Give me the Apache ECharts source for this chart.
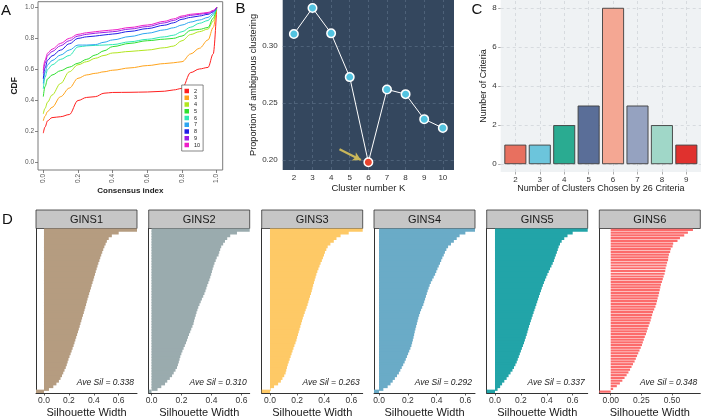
<!DOCTYPE html>
<html><head><meta charset="utf-8">
<script src="https://cdn.jsdelivr.net/npm/echarts@6/dist/echarts.min.js"></script>
<style>html,body{margin:0;padding:0;background:#fff}#c{width:701px;height:419px}</style>
</head><body><div id="c"></div>
<script>
// ---------- Panel A: consensus CDF ----------
const cdfX = [0, 0.01, 0.025, 0.05, 0.1, 0.15, 0.2, 0.25, 0.3, 0.35, 0.4, 0.5, 0.6, 0.7, 0.75, 0.8, 0.85, 0.9, 0.95, 0.98, 1.0];
const cdfK = ['2','3','4','5','6','7','8','9','10'];
const cdf2  = [0.19, 0.23, 0.27, 0.29, 0.296, 0.31, 0.40, 0.42, 0.425, 0.447, 0.452, 0.453, 0.455, 0.46, 0.468, 0.478, 0.58, 0.603, 0.613, 0.70, 1.0];
const cdf3  = [0.27, 0.30, 0.33, 0.356, 0.425, 0.48, 0.543, 0.565, 0.575, 0.585, 0.595, 0.61, 0.625, 0.638, 0.643, 0.65, 0.70, 0.736, 0.79, 0.87, 1.0];
const cdf4  = [0.315, 0.35, 0.39, 0.435, 0.51, 0.585, 0.63, 0.65, 0.672, 0.69, 0.706, 0.716, 0.725, 0.74, 0.75, 0.785, 0.825, 0.843, 0.86, 0.91, 1.0];
const cdf5  = [0.425, 0.49, 0.54, 0.564, 0.592, 0.615, 0.64, 0.665, 0.693, 0.72, 0.747, 0.768, 0.785, 0.795, 0.80, 0.815, 0.852, 0.858, 0.87, 0.93, 1.0];
const cdf6  = [0.475, 0.55, 0.60, 0.629, 0.665, 0.69, 0.745, 0.752, 0.755, 0.757, 0.76, 0.778, 0.794, 0.81, 0.82, 0.843, 0.872, 0.897, 0.915, 0.95, 1.0];
const cdf7  = [0.51, 0.58, 0.63, 0.657, 0.693, 0.725, 0.757, 0.757, 0.76, 0.775, 0.79, 0.812, 0.833, 0.855, 0.868, 0.886, 0.905, 0.918, 0.935, 0.96, 1.0];
const cdf8  = [0.54, 0.61, 0.66, 0.687, 0.725, 0.765, 0.80, 0.81, 0.815, 0.822, 0.828, 0.845, 0.863, 0.885, 0.90, 0.923, 0.935, 0.944, 0.955, 0.97, 1.0];
const cdf9  = [0.575, 0.64, 0.69, 0.715, 0.753, 0.785, 0.815, 0.826, 0.833, 0.838, 0.843, 0.86, 0.876, 0.90, 0.915, 0.936, 0.948, 0.955, 0.962, 0.975, 1.0];
const cdf10 = [0.597, 0.66, 0.705, 0.73, 0.768, 0.80, 0.826, 0.836, 0.843, 0.849, 0.854, 0.87, 0.886, 0.91, 0.925, 0.944, 0.955, 0.96, 0.967, 0.98, 1.0];
const cdfColors = ['#ff1f1f', '#ffa41c', '#b2e620', '#2fe02f', '#2ee8b6', '#2ea6f0', '#1f1fe6', '#9a1fe6', '#ee1fc8'];
const cdfTicks = [0, 0.2, 0.4, 0.6, 0.8, 1.0];

// ---------- Panel B: proportion of ambiguous clustering ----------
const bK = [2, 3, 4, 5, 6, 7, 8, 9, 10];
const bProp = [0.3105, 0.3333, 0.3111, 0.2728, 0.1983, 0.2620, 0.2579, 0.2360, 0.2283];
const bHighlightK = 6;
const bYTicks = [0.20, 0.25, 0.30];
const bArrowFrom = [4.45, 0.2097];
const bArrowTo = [5.6, 0.2003];

// ---------- Panel C: criteria votes ----------
const cK = [2, 3, 4, 5, 6, 7, 8, 9];
const cCount = [1, 1, 2, 3, 8, 3, 2, 1];
const cColors = ['#e8705f', '#6cc5dc', '#2aab91', '#5a6e98', '#f4a793', '#95a2c0', '#a0d7c8', '#e0312e'];
const cYTicks = [0, 2, 4, 6, 8];

// ---------- Panel D: silhouette widths ----------
const dNames = ['GINS1', 'GINS2', 'GINS3', 'GINS4', 'GINS5', 'GINS6'];
const dAveSil = ['0.338', '0.310', '0.263', '0.292', '0.337', '0.348'];
const gins1 = [0.747, 0.600, 0.545, 0.520, 0.505, 0.495, 0.485, 0.476, 0.468, 0.460,
  0.452, 0.445, 0.437, 0.430, 0.423, 0.416, 0.410, 0.403, 0.397, 0.390,
  0.383, 0.377, 0.370, 0.363, 0.357, 0.350, 0.344, 0.338, 0.332, 0.326,
  0.320, 0.313, 0.306, 0.300, 0.293, 0.287, 0.280, 0.273, 0.266, 0.259,
  0.252, 0.245, 0.238, 0.230, 0.222, 0.214, 0.205, 0.197, 0.190, 0.183,
  0.175, 0.165, 0.155, 0.145, 0.133, 0.120, 0.100, 0.075, 0.040, -0.064];
const gins2 = [0.655, 0.570, 0.525, 0.505, 0.490, 0.478, 0.465, 0.458, 0.452, 0.447,
  0.435, 0.428, 0.420, 0.414, 0.408, 0.403, 0.398, 0.392, 0.386, 0.379,
  0.372, 0.366, 0.360, 0.353, 0.345, 0.336, 0.328, 0.320, 0.312, 0.306,
  0.300, 0.295, 0.289, 0.284, 0.280, 0.273, 0.265, 0.258, 0.250, 0.243,
  0.237, 0.230, 0.222, 0.214, 0.206, 0.199, 0.192, 0.187, 0.182, 0.176,
  0.170, 0.160, 0.148, 0.137, 0.122, 0.105, 0.090, 0.065, 0.040, -0.019];
const gins3 = [0.683, 0.580, 0.520, 0.490, 0.470, 0.445, 0.425, 0.415, 0.405, 0.398,
  0.390, 0.382, 0.373, 0.365, 0.357, 0.349, 0.342, 0.336, 0.330, 0.324,
  0.318, 0.313, 0.308, 0.302, 0.295, 0.289, 0.283, 0.277, 0.270, 0.263,
  0.256, 0.249, 0.242, 0.236, 0.230, 0.224, 0.218, 0.212, 0.206, 0.200,
  0.195, 0.188, 0.180, 0.173, 0.166, 0.159, 0.152, 0.145, 0.138, 0.131,
  0.125, 0.120, 0.115, 0.105, 0.092, 0.080, 0.060, 0.030, 0.005, -0.061];
const gins4 = [0.667, 0.600, 0.560, 0.540, 0.520, 0.500, 0.480, 0.468, 0.458, 0.450,
  0.440, 0.432, 0.424, 0.415, 0.406, 0.398, 0.390, 0.380, 0.370, 0.360,
  0.352, 0.345, 0.338, 0.332, 0.326, 0.320, 0.314, 0.308, 0.300, 0.292,
  0.285, 0.279, 0.273, 0.268, 0.263, 0.258, 0.253, 0.248, 0.244, 0.240,
  0.235, 0.230, 0.225, 0.218, 0.210, 0.202, 0.194, 0.186, 0.178, 0.168,
  0.158, 0.148, 0.138, 0.125, 0.110, 0.095, 0.080, 0.060, 0.030, -0.035];
const gins5 = [0.716, 0.600, 0.560, 0.535, 0.515, 0.502, 0.492, 0.485, 0.478, 0.470,
  0.462, 0.455, 0.446, 0.436, 0.425, 0.415, 0.405, 0.396, 0.387, 0.378,
  0.370, 0.362, 0.355, 0.347, 0.340, 0.333, 0.326, 0.319, 0.312, 0.305,
  0.298, 0.291, 0.284, 0.277, 0.270, 0.263, 0.257, 0.251, 0.245, 0.238,
  0.231, 0.224, 0.216, 0.208, 0.200, 0.192, 0.184, 0.176, 0.168, 0.158,
  0.147, 0.135, 0.120, 0.105, 0.090, 0.072, 0.055, 0.040, 0.020, -0.064];
const gins6 = [0.671, 0.630, 0.600, 0.565, 0.545, 0.510, 0.505, 0.490, 0.485, 0.475,
  0.470, 0.468, 0.460, 0.455, 0.448, 0.445, 0.440, 0.432, 0.425, 0.418,
  0.410, 0.405, 0.400, 0.395, 0.390, 0.383, 0.378, 0.372, 0.365, 0.355,
  0.345, 0.338, 0.332, 0.326, 0.318, 0.310, 0.302, 0.295, 0.288, 0.278,
  0.270, 0.262, 0.255, 0.245, 0.235, 0.225, 0.215, 0.205, 0.195, 0.182,
  0.170, 0.158, 0.145, 0.130, 0.113, 0.095, 0.075, 0.050, 0.020, -0.093];
const dColors = ['#b59c80', '#9aabae', '#fec966', '#6aabc7', '#22a4a8', '#fc6b6b'];
const dTicks = [[0, 0.2, 0.4, 0.6], [0, 0.2, 0.4, 0.6], [0, 0.2, 0.4, 0.6], [0, 0.2, 0.4, 0.6], [0, 0.2, 0.4, 0.6], [0, 0.25, 0.5]];
const dTickDigits = [1, 1, 1, 1, 1, 2];
const dAxisMax = ['dataMax', 'dataMax', 'dataMax', 'dataMax', 'dataMax', 0.731];

// ---------- build ----------
const FONT = '"Liberation Sans", Arial, Helvetica, sans-serif';
const cdfSeriesData = [cdf2, cdf3, cdf4, cdf5, cdf6, cdf7, cdf8, cdf9, cdf10];
const ginsData = [gins1, gins2, gins3, gins4, gins5, gins6];
const dLefts = [36, 148.7, 261.7, 374, 486.7, 599.3];
const dTop = 228.5, dW = 101, dH = 167;

const grids = [
  {left: 38, top: 1.7, width: 184.7, height: 168.3, show: true, borderColor: '#7a7a7a', borderWidth: 1, backgroundColor: 'rgba(0,0,0,0)'},
  {left: 282.7, top: 0, width: 171.3, height: 170, show: true, backgroundColor: '#34475e', borderWidth: 0},
  {left: 500.7, top: 0, width: 200.3, height: 172, show: true, backgroundColor: '#eff2f4', borderWidth: 0}
];
dLefts.forEach(l => grids.push({left: l, top: dTop, width: dW, height: dH}));

const txt = (size, color, extra) => Object.assign({fontSize: size, color: color, fontFamily: FONT}, extra || {});

const xAxes = [
  {type: 'value', gridIndex: 0, min: -0.0306, max: 1.0346,
   axisLine: {show: false, onZero: false}, splitLine: {show: false},
   axisTick: {show: true, customValues: cdfTicks, length: 3, lineStyle: {color: '#666', width: 0.8}},
   axisLabel: Object.assign({customValues: cdfTicks, rotate: 90, margin: 4, formatter: v => v.toFixed(1)}, txt(6.5, '#555')),
   name: 'Consensus index', nameLocation: 'middle', nameGap: 16, nameTextStyle: txt(8, '#222', {fontWeight: 'bold'})},
  {type: 'value', gridIndex: 1, min: 1.4, max: 10.6,
   axisLine: {show: false, onZero: false}, splitLine: {show: false}, axisTick: {show: false},
   axisLabel: Object.assign({customValues: bK, margin: 4}, txt(8, '#333')),
   name: 'Cluster number K', nameLocation: 'middle', nameGap: 13, nameTextStyle: txt(9.5, '#222')},
  {type: 'value', gridIndex: 2, min: 1.4, max: 9.6,
   axisLine: {show: false, onZero: false}, splitLine: {show: false},
   axisTick: {show: true, customValues: cK, length: 2.5, lineStyle: {color: '#777', width: 0.6}},
   axisLabel: Object.assign({customValues: cK, margin: 3.5}, txt(8, '#333')),
   name: 'Number of Clusters Chosen by 26 Criteria', nameLocation: 'middle', nameGap: 12, nameTextStyle: txt(9, '#222')}
];
const yAxes = [
  {type: 'value', gridIndex: 0, min: -0.047, max: 1.036,
   axisLine: {show: false, onZero: false}, splitLine: {show: false},
   axisTick: {show: true, customValues: cdfTicks, length: 3, lineStyle: {color: '#666', width: 0.8}},
   axisLabel: Object.assign({customValues: cdfTicks, margin: 4, formatter: v => v.toFixed(1)}, txt(6.5, '#555')),
   name: 'CDF', nameLocation: 'middle', nameGap: 19, nameTextStyle: txt(8.5, '#222', {fontWeight: 'bold'})},
  {type: 'value', gridIndex: 1, min: 0.1915, max: 0.3403,
   axisLine: {show: false, onZero: false}, splitLine: {show: false}, axisTick: {show: false},
   axisLabel: Object.assign({customValues: bYTicks, margin: 5, formatter: v => v.toFixed(2)}, txt(8, '#333')),
   name: 'Proportion of ambiguous clustering', nameLocation: 'middle', nameGap: 20, nameTextStyle: txt(9.2, '#222')},
  {type: 'value', gridIndex: 2, min: -0.4, max: 8.4,
   axisLine: {show: false, onZero: false}, splitLine: {show: false},
   axisTick: {show: true, customValues: cYTicks, length: 2.5, lineStyle: {color: '#777', width: 0.6}},
   axisLabel: Object.assign({customValues: cYTicks, margin: 4}, txt(8, '#333')),
   name: 'Number of Criteria', nameLocation: 'middle', nameGap: 8, nameTextStyle: txt(9, '#222')}
];

const series = [];
// A lines
cdfSeriesData.forEach((arr, i) => {
  series.push({type: 'line', name: cdfK[i], xAxisIndex: 0, yAxisIndex: 0,
    data: cdfX.map((x, j) => [x, arr[j]]), smooth: 0.35, smoothMonotone: 'x',
    showSymbol: false, symbol: 'none', color: cdfColors[i],
    lineStyle: {width: 1, color: cdfColors[i]}, z: 3});
});
// B grid lines
series.push({type: 'line', xAxisIndex: 1, yAxisIndex: 1, data: [], silent: true,
  markLine: {silent: true, symbol: 'none', z: 1, label: {show: false},
    lineStyle: {color: '#5b6e85', type: [3, 3], width: 0.7},
    data: bYTicks.map(v => ({yAxis: v})).concat(bK.map(k => ({xAxis: k})))}});
// B line
series.push({type: 'line', name: 'ambiguous', xAxisIndex: 1, yAxisIndex: 1, z: 4,
  data: bK.map((k, i) => ({value: [k, bProp[i]], itemStyle: {color: k === bHighlightK ? '#e8452f' : '#52c3e0'}})),
  symbol: 'circle', symbolSize: 8.5, showSymbol: true,
  lineStyle: {color: '#ffffff', width: 1},
  itemStyle: {borderColor: '#ffffff', borderWidth: 1.5},
  markLine: {silent: true, symbol: ['none', 'arrow'], symbolSize: [7, 8], z: 3, label: {show: false},
    lineStyle: {color: '#c8b65a', width: 2.2, type: 'solid'},
    data: [[{coord: bArrowFrom}, {coord: bArrowTo}]]}});
// C grid lines
series.push({type: 'line', xAxisIndex: 2, yAxisIndex: 2, data: [], silent: true,
  markLine: {silent: true, symbol: 'none', z: 1, label: {show: false},
    lineStyle: {color: '#cdd2d6', type: [3, 3], width: 0.7},
    data: cYTicks.map(v => ({yAxis: v})).concat(cK.map(k => ({xAxis: k})))}});
// C bars
series.push({type: 'bar', name: 'criteria', xAxisIndex: 2, yAxisIndex: 2, barWidth: 22, z: 3,
  data: cK.map((k, i) => ({value: [k, cCount[i]], itemStyle: {color: cColors[i]}})),
  itemStyle: {borderColor: '#3d3d3d', borderWidth: 0.9}});

// D panels
ginsData.forEach((arr, i) => {
  const ax = 3 + i;
  const striped = i === 5;
  xAxes.push({type: 'value', gridIndex: ax, min: 'dataMin', max: dAxisMax[i],
    axisLine: {show: true, onZero: false, lineStyle: {color: '#333', width: 1}},
    splitLine: {show: false},
    axisTick: {show: true, customValues: dTicks[i], length: 2.5, lineStyle: {color: '#333', width: 0.8}},
    axisLabel: Object.assign({customValues: dTicks[i], margin: 3, formatter: v => v.toFixed(dTickDigits[i])}, txt(8.5, '#333')),
    name: 'Silhouette Width', nameLocation: 'middle', nameGap: 14, nameTextStyle: txt(11, '#1a1a1a')});
  yAxes.push({type: 'category', gridIndex: ax, inverse: true, data: arr.map((_, j) => String(j + 1)),
    axisLine: {show: true, onZero: false, lineStyle: {color: '#333', width: 1}},
    axisTick: {show: false}, axisLabel: {show: false}, splitLine: {show: false}});
  series.push({type: 'bar', name: dNames[i], xAxisIndex: ax, yAxisIndex: ax, data: arr,
    barCategoryGap: striped ? '20%' : '-45%',
    itemStyle: {color: dColors[i]},
    z: 2});
});

const graphic = [
  {type: 'text', x: 1, y: 3, style: {text: 'A', fontSize: 15, fontFamily: FONT, fill: '#111'}},
  {type: 'text', x: 235.5, y: 1, style: {text: 'B', fontSize: 15, fontFamily: FONT, fill: '#111'}},
  {type: 'text', x: 471.5, y: 2, style: {text: 'C', fontSize: 15, fontFamily: FONT, fill: '#111'}},
  {type: 'text', x: 2, y: 212, style: {text: 'D', fontSize: 15, fontFamily: FONT, fill: '#111'}}
];
dLefts.forEach((l, i) => {
  graphic.push({type: 'rect', shape: {x: l, y: 210, width: dW, height: 18.5}, style: {fill: '#c6c6c6', stroke: '#333', lineWidth: 0.8}});
  graphic.push({type: 'text', x: l + dW / 2, y: 219.5, style: {text: dNames[i], fontSize: 11, fontFamily: FONT, fill: '#1a1a1a', align: 'center', verticalAlign: 'middle'}});
  graphic.push({type: 'text', x: l + dW - 3, y: 383, z: 10, style: {text: 'Ave Sil = ' + dAveSil[i], fontSize: 8.5, fontStyle: 'italic', fontFamily: FONT, fill: '#222', align: 'right', verticalAlign: 'middle'}});
});

const chart = echarts.init(document.getElementById('c'), null, {renderer: 'canvas', width: 701, height: 419});
chart.setOption({
  animation: false,
  backgroundColor: '#ffffff',
  textStyle: {fontFamily: FONT},
  grid: grids,
  xAxis: xAxes,
  yAxis: yAxes,
  legend: {data: cdfK.map(k => ({name: k, icon: 'rect'})), orient: 'vertical', left: 181.7, top: 85,
    itemWidth: 4.5, itemHeight: 4.5, itemGap: 0.75, selectedMode: false,
    padding: [3, 3, 3, 2.8], borderColor: '#555', borderWidth: 0.7, backgroundColor: '#fff',
    textStyle: {fontSize: 5.5, color: '#222', fontFamily: FONT}},
  series: series,
  graphic: graphic
});
</script></body></html>
